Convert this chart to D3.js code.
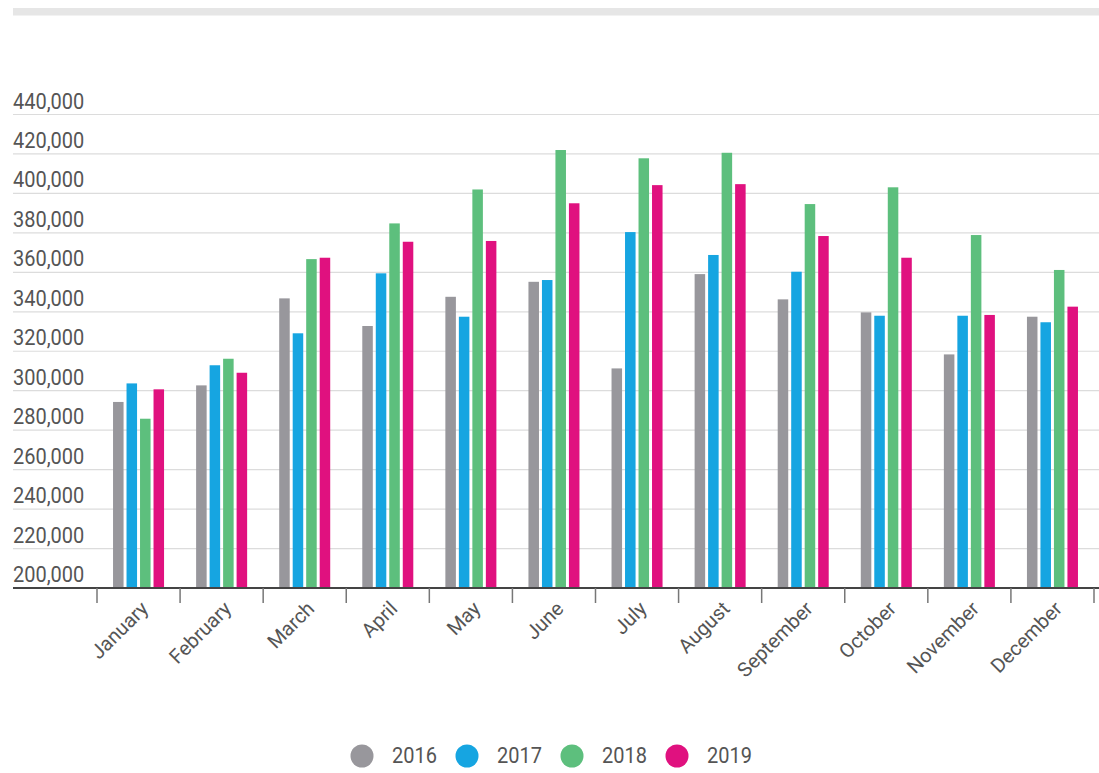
<!DOCTYPE html>
<html>
<head>
<meta charset="utf-8">
<script src="https://cdn.jsdelivr.net/npm/d3@7"></script>
<style>
  html, body { margin: 0; padding: 0; background: #fff; }
  svg { display: block; }
  text { font-family: Roboto, "Noto Sans", sans-serif; fill: #555; }
</style>
</head>
<body>
<svg id="chart" width="1099" height="773"></svg>
<script>
const months = ["January","February","March","April","May","June","July","August","September","October","November","December"];
const years = ["2016","2017","2018","2019"];
const s2016 = [294300, 302700, 346800, 332800, 347600, 355200, 311300, 359100, 346300, 339700, 318400, 337500];
const s2017 = [303700, 312900, 329100, 359500, 337500, 356100, 380400, 368800, 360300, 338000, 338000, 334700];
const s2018 = [285800, 316200, 366700, 384800, 402000, 422000, 417800, 420600, 394600, 403100, 378900, 361200];
const s2019 = [300700, 309100, 367400, 375500, 375900, 395000, 404200, 404700, 378400, 367400, 338400, 342600];
const yTicks = [200000, 220000, 240000, 260000, 280000, 300000, 320000, 340000, 360000, 380000, 400000, 420000, 440000];
const colors = ["#98979c", "#16a5e1", "#5dbf7d", "#e0117f"];

const series = [s2016, s2017, s2018, s2019];
const svg = d3.select("#chart");

// top decorative bar
svg.append("rect").attr("x", 13).attr("y", 8).attr("width", 1086).attr("height", 7.5).attr("fill", "#e6e6e6");

const y = d3.scaleLinear().domain([200000, 440000]).range([588, 114.5]);
const x0 = d3.scaleBand().domain(months).range([97, 1094]).paddingInner(0.386).paddingOuter(0.193);
const x1 = d3.scaleBand().domain(years).range([0, x0.bandwidth()]).paddingInner(0.22);

const fmt = d3.format(",");

// gridlines + y labels
const gridG = svg.append("g");
yTicks.forEach(t => {
  if (t !== 200000) {
    gridG.append("line").attr("x1", 13).attr("x2", 1099).attr("y1", y(t)).attr("y2", y(t))
      .attr("stroke", "#dcdcdc").attr("stroke-width", 1.2);
  }
  gridG.append("text")
    .attr("transform", `translate(13,${y(t) - 6}) scale(1,1.08)`)
    .attr("font-size", 20).text(fmt(t));
});

// bars
const barsG = svg.append("g");
months.forEach((m, i) => {
  years.forEach((yr, j) => {
    const v = series[j][i];
    barsG.append("rect")
      .attr("x", x0(m) + x1(yr))
      .attr("y", y(v))
      .attr("width", x1.bandwidth())
      .attr("height", y(200000) - y(v))
      .attr("fill", colors[j]);
  });
});

// x axis baseline and ticks
svg.append("line").attr("x1", 13).attr("x2", 1099).attr("y1", y(200000)).attr("y2", y(200000))
  .attr("stroke", "#444").attr("stroke-width", 2.2);
const step = x0.step();
const start = x0.range()[0];
d3.range(months.length + 1).forEach(k => {
  const tx = start + k * step;
  svg.append("line").attr("x1", tx).attr("x2", tx).attr("y1", y(200000)).attr("y2", y(200000) + 15)
    .attr("stroke", "#777").attr("stroke-width", 1.5);
});

// x labels
months.forEach(m => {
  const cx = x0(m) + x0.bandwidth() / 2 + 1;
  const cy = 600;
  svg.append("text")
    .attr("transform", `translate(${cx},${cy}) rotate(-45)`)
    .attr("text-anchor", "end")
    .attr("dy", "0.7em")
    .attr("font-size", 20)
    .text(m);
});

// legend
const legendX = [362, 467, 572, 677];
years.forEach((yr, j) => {
  svg.append("circle").attr("cx", legendX[j]).attr("cy", 756).attr("r", 11.5).attr("fill", colors[j]);
  svg.append("text")
    .attr("transform", `translate(${legendX[j] + 30},763) scale(1,1.08)`)
    .attr("font-size", 20).text(yr);
});
</script>
</body>
</html>
